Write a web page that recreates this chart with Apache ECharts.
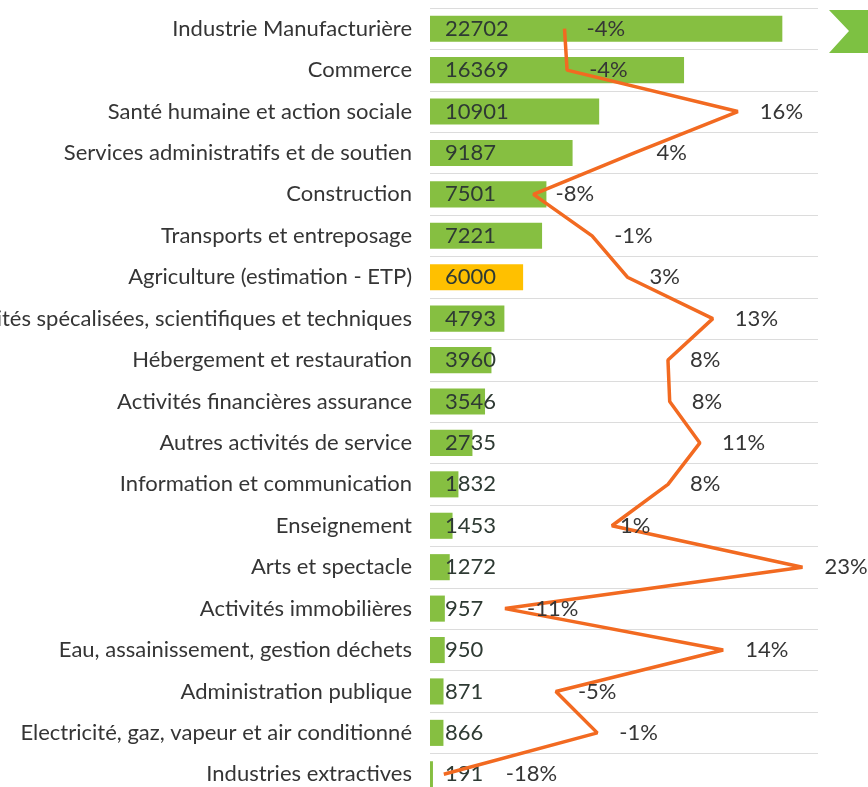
<!DOCTYPE html>
<html>
<head>
<meta charset="utf-8">
<script src="https://cdn.jsdelivr.net/npm/echarts@6/dist/echarts.min.js"></script>
<style>html,body{margin:0;padding:0;background:#fff;}#c{width:868px;height:787px;}</style>
</head>
<body>
<div id="c"></div>
<script>
const categories = [
  'Industrie Manufacturière',
  'Commerce',
  'Santé humaine et action sociale',
  'Services administratifs et de soutien',
  'Construction',
  'Transports et entreposage',
  'Agriculture (estimation - ETP)',
  'Activités spécalisées, scientifiques et techniques',
  'Hébergement et restauration',
  'Activités financières assurance',
  'Autres activités de service',
  'Information et communication',
  'Enseignement',
  'Arts et spectacle',
  'Activités immobilières',
  'Eau, assainissement, gestion déchets',
  'Administration publique',
  'Electricité, gaz, vapeur et air conditionné',
  'Industries extractives'
];
const employees = [22702, 16369, 10901, 9187, 7501, 7221, 6000, 4793, 3960, 3546, 2735, 1832, 1453, 1272, 957, 950, 871, 866, 191];
const growthPct = [-4.4, -4.1, 15.7, 3.7, -8.0, -1.2, 2.9, 12.8, 7.6, 7.8, 11.3, 7.6, 1.1, 23.2, -11.3, 14.0, -5.4, -0.6, -18.4];
const highlightCategory = 'Agriculture (estimation - ETP)';

const chart = echarts.init(document.getElementById('c'));
const hlIdx = categories.indexOf(highlightCategory);
const font = 'Lato, "Open Sans", sans-serif';

// label placement tweaks for a few line labels (style only)
const lineLabelDistance = { 'Enseignement': 8, 'Industries extractives': 62 };

const lineData = growthPct.map(function (v, i) {
  const d = lineLabelDistance[categories[i]];
  return d === undefined ? v : { value: v, label: { distance: d } };
});

chart.setOption({
  animation: false,
  backgroundColor: '#ffffff',
  grid: { left: 430, right: 50, top: 8, height: 787, containLabel: false, outerBoundsMode: 'none' },
  xAxis: [
    { type: 'value', min: 0, max: 25000, show: false },
    { type: 'value', min: -20, max: 25, show: false }
  ],
  yAxis: {
    type: 'category',
    data: categories,
    inverse: true,
    axisLine: { show: false },
    axisTick: { show: false },
    splitLine: { show: true, lineStyle: { color: '#dcdcdc', width: 1 } },
    axisLabel: { color: '#353535', fontSize: 22, fontFamily: font, margin: 18 }
  },
  series: [
    {
      type: 'bar',
      data: employees,
      barWidth: '63%',
      itemStyle: {
        color: function (p) { return p.dataIndex === hlIdx ? '#ffc000' : '#86bf41'; }
      },
      label: {
        show: true,
        position: 'insideLeft',
        distance: 15,
        color: '#2e3a33',
        fontSize: 22,
        fontFamily: font
      },
      z: 2
    },
    {
      type: 'line',
      xAxisIndex: 1,
      data: lineData,
      symbol: 'circle',
      symbolSize: 0.1,
      showSymbol: true,
      lineStyle: { color: '#f26a21', width: 3.5 },
      itemStyle: { color: '#f26a21' },
      label: {
        show: true,
        position: 'right',
        distance: 22,
        color: '#353535',
        fontSize: 22,
        fontFamily: font,
        formatter: function (p) { return Math.round(p.value) + '%'; }
      },
      z: 3
    }
  ],
  graphic: [
    {
      type: 'polygon',
      shape: { points: [[829, 10], [868, 10], [868, 53], [829, 53], [849, 31]] },
      style: { fill: '#7dc142' }
    }
  ]
});
</script>
</body>
</html>
